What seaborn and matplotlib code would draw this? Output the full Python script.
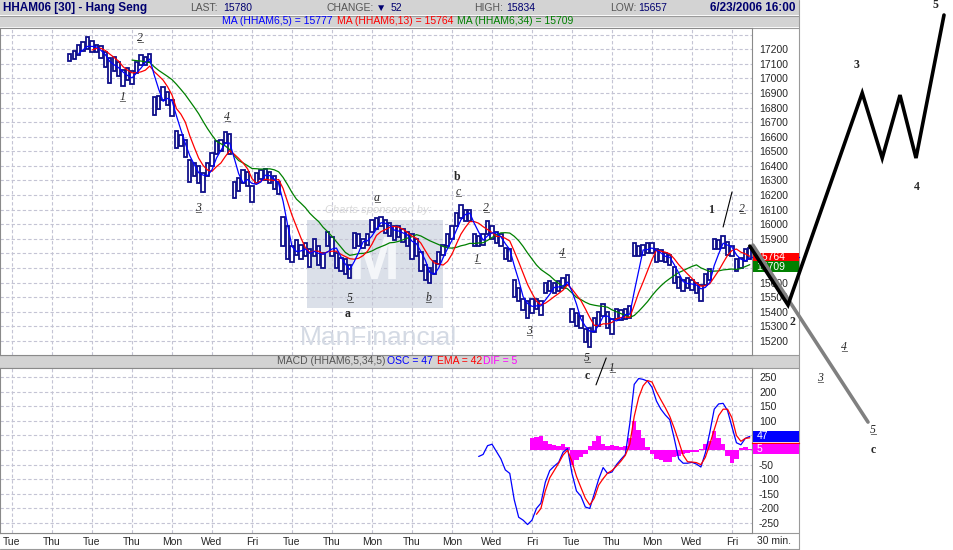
import numpy as np
import pandas as pd
import seaborn as sns
import matplotlib.pyplot as plt
from matplotlib.patches import Rectangle
from matplotlib.transforms import blended_transform_factory

# 30 minute bars (one slot = about 4.4 px)
bar_close = [
    17140, 17170, 17200, 17220, 17240, 17200, 17210, 17170, 17110, 17070,
    17100, 17050, 16980, 17030, 17000, 17080, 17130, 17120, 17150, 16800,
    16830, 16900, 16860, 16780, 16590, 16570, 16500, 16340, 16390, 16330,
    16290, 16380, 16450, 16530, 16540, 16600, 16530, 16230, 16280, 16340,
    16300, 16200, 16320, 16350, 16340, 16310, 16280, 16240, 15950, 15800,
    15790, 15850, 15810, 15830, 15760, 15850, 15790, 15740, 15900, 15850,
    15760, 15720, 15700, 15650, 15880, 15890, 15870, 15900, 15990, 16010,
    16030, 15980, 15960, 15940, 15960, 15920, 15900, 15830, 15870, 15740,
    15650, 15620, 15700, 15780, 15830, 15890, 15950, 16040, 16100, 16060,
    16070, 15890, 15880, 15900, 15980, 15940, 15910, 15890, 15800, 15790,
    15560, 15500, 15450, 15420, 15440, 15460, 15420, 15560, 15580, 15560,
    15570, 15600, 15640, 15380, 15340, 15330, 15230, 15240, 15320, 15360,
    15420, 15330, 15290, 15390, 15370, 15380, 15400, 15830, 15810, 15830,
    15840, 15840, 15780, 15790, 15770, 15760, 15640, 15600, 15580, 15600,
    15590, 15560, 15520, 15620, 15660, 15870, 15860, 15880, 15830, 15820,
    15720, 15740, 15790, 15780,
]
bar_high = [
    17170, 17190, 17230, 17250, 17285, 17260, 17230, 17220, 17180, 17140,
    17150, 17110, 17060, 17070, 17050, 17110, 17160, 17150, 17170, 16870,
    16880, 16940, 16910, 16850, 16640, 16610, 16580, 16440, 16420, 16400,
    16350, 16420, 16490, 16570, 16580, 16630, 16620, 16290, 16320, 16370,
    16360, 16260, 16350, 16370, 16380, 16360, 16330, 16290, 16050, 15990,
    15850, 15890, 15860, 15870, 15830, 15900, 15850, 15800, 15950, 15910,
    15800, 15770, 15760, 15720, 15940, 15930, 15900, 15930, 16030, 16040,
    16050, 16030, 16010, 15990, 15990, 15970, 15950, 15930, 15900, 15810,
    15720, 15700, 15750, 15810, 15860, 15930, 15990, 16080, 16130, 16100,
    16100, 15930, 15920, 15930, 16020, 15990, 15950, 15930, 15840, 15830,
    15620, 15560, 15490, 15470, 15490, 15490, 15470, 15600, 15610, 15600,
    15610, 15630, 15650, 15420, 15390, 15370, 15280, 15290, 15360, 15400,
    15450, 15400, 15350, 15420, 15410, 15420, 15440, 15870, 15850, 15860,
    15870, 15870, 15830, 15820, 15800, 15790, 15710, 15640, 15620, 15630,
    15620, 15600, 15580, 15660, 15690, 15900, 15890, 15920, 15880, 15850,
    15760, 15770, 15830, 15834,
]
bar_low = [
    17120, 17130, 17160, 17190, 17200, 17180, 17180, 17140, 17080, 16970,
    17050, 17020, 16950, 16990, 16960, 17040, 17090, 17090, 17110, 16750,
    16790, 16850, 16820, 16740, 16520, 16540, 16460, 16290, 16330, 16280,
    16220, 16330, 16400, 16480, 16500, 16560, 16480, 16180, 16230, 16280,
    16260, 16150, 16280, 16310, 16300, 16280, 16240, 16210, 15850, 15760,
    15740, 15790, 15760, 15780, 15710, 15780, 15720, 15700, 15850, 15780,
    15700, 15680, 15660, 15630, 15840, 15850, 15840, 15860, 15950, 15970,
    15990, 15940, 15920, 15890, 15910, 15880, 15850, 15760, 15780, 15680,
    15620, 15600, 15660, 15730, 15790, 15850, 15900, 15990, 16040, 16020,
    16020, 15850, 15850, 15860, 15930, 15900, 15870, 15850, 15760, 15750,
    15500, 15470, 15410, 15360, 15390, 15420, 15380, 15530, 15540, 15530,
    15540, 15560, 15580, 15330, 15300, 15290, 15190, 15160, 15260, 15300,
    15370, 15290, 15250, 15350, 15340, 15350, 15360, 15780, 15780, 15790,
    15800, 15800, 15740, 15750, 15740, 15720, 15600, 15560, 15540, 15560,
    15550, 15530, 15470, 15580, 15620, 15830, 15830, 15840, 15790, 15780,
    15680, 15700, 15750, 15760,
]

# MACD panel, these series end on the last bar
osc_values = [
    -22, -15, 15, 20, -5, -30, -68, -80, -170, -230,
    -240, -255, -240, -200, -182, -110, -70, -55, -42, -7,
    5, -80, -140, -158, -195, -200, -150, -100, -60, -80,
    -75, -50, -32, -15, 90, 225, 245, 242, 236, 215,
    168, 140, 120, 104, 40, -30, -45, -45, -42, -48,
    -58, -10, 60, 140, 158, 160, 135, 79, 25, 18,
    40, 47,
]
ema_values = [
    -220, -200, -140, -95, -70, -45, -17, 0, -40, -90,
    -128, -165, -188, -165, -120, -98, -79, -70, -55, -38,
    -18, 20, 115, 180, 220, 238, 233, 200, 172, 145,
    115, 75, 30, -17, -40, -41, -43, -50, -25, 20,
    70, 118, 140, 140, 110, 50, 30, 40, 42,
]
dif_values = [
    40, 45, 48, 30, 20, 18, 15, 20, 10, -50,
    -35, -25, -15, 15, 30, 48, 20, 15, 18, 15,
    12, 15, 40, 100, 70, 40, 10, -15, -30, -35,
    -40, -40, -25, -20, -15, -10, -5, -5, 5, 20,
    30, 65, 40, 20, -20, -45, -30, 8, 10, 5,
]

day_labels = ['Tue', 'Thu', 'Tue', 'Thu', 'Mon', 'Wed', 'Fri', 'Tue', 'Thu', 'Mon',
              'Thu', 'Mon', 'Wed', 'Fri', 'Tue', 'Thu', 'Mon', 'Wed', 'Fri']
price_ticks = list(range(15200, 17301, 100))
macd_ticks = list(range(-250, 251, 50))
# scale labels hidden behind the last-value flags
price_hidden = [15700, 15800, 17300]
macd_hidden = [0, 50]

# hand drawn elliott wave count (bar slot, price)
up_wave_idx = [166, 174.6, 191.3, 195.8, 199.8, 203.4, 209.7]
up_wave_price = [15850, 15446, 16900, 16454, 16886, 16454, 17435]
down_wave_idx = [166.7, 192.6]
down_wave_price = [15857, 14643]
wave_tags = [
    (28.8, 17278, '2', 'u'), (24.8, 16873, '1', 'u'), (48.4, 16736, '4', 'u'),
    (41.9, 16111, '3', 'u'), (82.1, 16180, 'a', 'u'), (76.1, 15494, '5', 'u'),
    (75.6, 15384, 'a', 'b'), (93.6, 15494, 'b', 'u'), (100.1, 16324, 'b', 'b'),
    (100.4, 16221, 'c', 'u'), (106.7, 16111, '2', 'u'), (104.6, 15761, '1', 'u'),
    (123.8, 15803, '4', 'u'), (116.3, 15268, '3', 'u'), (129.4, 15083, '5', 'u'),
    (129.4, 14960, 'c', 'b'), (135.0, 15015, '1', 'u'), (157.3, 16097, '1', 'b'),
    (164.3, 16104, '2', 'u'), (190.1, 17092, '3', 'b'), (203.6, 16255, '4', 'b'),
    (175.6, 15330, '2', 'b'), (207.7, 17504, '5', 'b'), (187.2, 15158, '4', 'u'),
    (181.8, 14946, '3', 'u'), (193.7, 14589, '5', 'u'), (193.7, 14452, 'c', 'b'),
]
wave_strokes = [([160, 162], [15981, 16221]), ([131.4, 133.7], [14898, 15083])]

first_bar = 13
bars_per_label = 9

sns.set_style('white')
plt.rcParams['font.family'] = ['Liberation Sans', 'DejaVu Sans']

W, H = 954, 550
fig = plt.figure(figsize=(W / 100, H / 100), dpi=100)


def px_box(x0, y0, x1, y1):
    return [x0 / W, 1 - y1 / H, (x1 - x0) / W, (y1 - y0) / H]


bg = fig.add_axes([0, 0, 1, 1], zorder=-1)
bg.set_xlim(0, W)
bg.set_ylim(H, 0)
bg.axis('off')
ax = fig.add_axes(px_box(0, 28, 752, 355), zorder=2)
mx = fig.add_axes(px_box(0, 368, 752, 533), zorder=1)

# header strips
bar_grey = '#d3d3d3'
for y0, h in [(0, 15), (16, 11), (355, 13)]:
    bg.add_patch(Rectangle((0, y0), 799, h, color=bar_grey, lw=0))
for yy in [15.5, 27.5, 355, 368, 533, 549]:
    bg.plot([0, 799], [yy, yy], color='#9a9a9a', lw=0.8)
bg.plot([799, 799], [0, 550], color='#9a9a9a', lw=0.8)

navy = '#000070'
grey_txt = '#555555'
fs = 7.5
bg.text(3, 8, 'HHAM06 [30] - Hang Seng', weight='bold', color=navy, fontsize=8.5, va='center')
for x, s, c in [(190, 'LAST:', grey_txt), (223, '15780', navy), (327, 'CHANGE:', grey_txt),
                (376, '\u25bc', navy), (391, '52', navy), (474, 'HIGH:', grey_txt),
                (506, '15834', navy), (610, 'LOW:', grey_txt), (638, '15657', navy)]:
    bg.text(x, 8, s, color=c, fontsize=fs, va='center')
bg.text(796, 8, '6/23/2006 16:00', weight='bold', color=navy, fontsize=8.5, va='center', ha='right')
for x, s, c in [(222, 'MA (HHAM6,5) = 15777', '#0000ff'), (337, 'MA (HHAM6,13) = 15764', '#ff0000'),
                (457, 'MA (HHAM6,34) = 15709', '#008000')]:
    bg.text(x, 21.5, s, color=c, fontsize=fs, va='center')
for x, s, c in [(277, 'MACD (HHAM6,5,34,5)', grey_txt), (387, 'OSC = 47', '#0000ff'),
                (437, 'EMA = 42', '#ff0000'), (483, 'DIF = 5', '#ff00ff')]:
    bg.text(x, 361.5, s, color=c, fontsize=fs, va='center')
bg.text(757, 541, '30 min.', fontsize=fs, va='center')

# price panel
df = pd.DataFrame({'close': bar_close, 'high': bar_high, 'low': bar_low})
df['idx'] = np.arange(first_bar, first_bar + len(df))
df['ma5'] = df['close'].rolling(3).mean()
df['ma13'] = df['close'].rolling(6).mean()
df['ma34'] = df['close'].rolling(15).mean()

x_lo, x_hi = -2.7, 166.5
ax.set_xlim(x_lo, x_hi)
ax.set_ylim(15103, 17346)

# sponsor watermark
ax.add_patch(Rectangle((0.408, 0.144), 0.181, 0.269, transform=ax.transAxes,
                       color='#dbe0e9', lw=0, zorder=0.5))
ax.text(0.498, 0.28, 'M', transform=ax.transAxes, color='#f4f6f9', fontsize=44,
        weight='bold', ha='center', va='center', zorder=0.6)
ax.text(0.503, 0.052, 'ManFinancial', transform=ax.transAxes, color='#d4dae4',
        fontsize=19, ha='center', va='center', zorder=0.6)
ax.text(0.503, 0.443, 'Charts sponsored by:', transform=ax.transAxes, color='#d8d8d8',
        fontsize=8, style='italic', ha='center', va='center', zorder=0.6)

bar_color = '#10108a'
ax.vlines(df['idx'], df['low'], df['high'], color=bar_color, lw=1.0, zorder=3)
ax.bar(df['idx'], df['high'] - df['low'], bottom=df['low'], width=0.75,
       facecolor='white', edgecolor=bar_color, linewidth=1.3, zorder=3)
sns.lineplot(x=df['idx'], y=df['ma34'], ax=ax, color='#008000', lw=0.9, zorder=4)
sns.lineplot(x=df['idx'], y=df['ma13'], ax=ax, color='#ff0000', lw=0.9, zorder=4)
sns.lineplot(x=df['idx'], y=df['ma5'], ax=ax, color='#0000ff', lw=0.9, zorder=4)

tick_idx = np.arange(0, bars_per_label * len(day_labels), bars_per_label)
grid_kw = dict(color='#c4c4d4', linestyle=(0, (3, 2)), linewidth=0.8)
for a in (ax, mx):
    a.set_xticks(tick_idx)
    a.grid(True, **grid_kw)
    a.set_axisbelow(True)
    a.yaxis.tick_right()
    a.tick_params(length=0, labelsize=fs, pad=5)
    a.set_xlabel('')
    a.set_ylabel('')
    for sp in a.spines.values():
        sp.set_color('#8a8a8a')
        sp.set_linewidth(0.8)
ax.set_xticklabels([])
ax.set_yticks(price_ticks)
ax.set_yticklabels(['' if t in price_hidden else str(t) for t in price_ticks])

# last value flags in the scale column
tr = blended_transform_factory(ax.transAxes, ax.transData)
ax.plot([1.0, 1.0625], [15777, 15777], transform=tr, color='#0000ff', lw=1, clip_on=False, zorder=5)
ax.add_patch(Rectangle((1.001, 15751), 0.061, 50, transform=tr, color='#ff0000', lw=0,
                       clip_on=False, zorder=5))
ax.text(1.006, 15776, '15764', transform=tr, color='white', fontsize=fs, va='center',
        clip_on=False, zorder=6)
ax.add_patch(Rectangle((1.001, 15669), 0.061, 80, transform=tr, color='#008000', lw=0,
                       clip_on=False, zorder=5))
ax.text(1.006, 15709, '15709', transform=tr, color='white', fontsize=fs, va='center',
        clip_on=False, zorder=6)

# elliott wave projection and labels
ax.plot(up_wave_idx, up_wave_price, color='black', lw=2.6, clip_on=False, zorder=8,
        solid_joinstyle='miter')
ax.plot(down_wave_idx, down_wave_price, color='#808080', lw=2.6, clip_on=False, zorder=7)
for xs, ys in wave_strokes:
    ax.plot(xs, ys, color='black', lw=0.8, clip_on=False, zorder=7)
for x, y, s, kind in wave_tags:
    if kind == 'b':
        ax.text(x, y, s, fontsize=8.5, weight='bold', family='Liberation Serif',
                ha='center', va='center', clip_on=False, zorder=9)
    else:
        for t in (s, '_'):
            ax.text(x, y, t, fontsize=8.5, style='italic', family='Liberation Serif',
                    ha='center', va='center', clip_on=False, zorder=9)

# MACD panel
macd_idx = df['idx'].to_numpy()
mx.set_xlim(x_lo, x_hi)
mx.set_ylim(-284, 281)
mx.bar(macd_idx[-len(dif_values):], dif_values, width=1.0, color='#ff00ff', lw=0, zorder=2)
sns.lineplot(x=macd_idx[-len(osc_values):], y=osc_values, ax=mx, color='#0000ff', lw=0.9, zorder=3)
sns.lineplot(x=macd_idx[-len(ema_values):], y=ema_values, ax=mx, color='#ff0000', lw=0.9, zorder=3)
mx.set_xticks(tick_idx)
mx.set_xticklabels(day_labels)
mx.tick_params(axis='x', pad=3)
mx.set_yticks(macd_ticks)
mx.set_yticklabels(['' if t in macd_hidden else str(t) for t in macd_ticks])

tr2 = blended_transform_factory(mx.transAxes, mx.transData)
mx.add_patch(Rectangle((1.001, 29), 0.061, 36, transform=tr2, color='#0000ff', lw=0,
                       clip_on=False, zorder=5))
mx.text(1.006, 47, '47', transform=tr2, color='white', fontsize=fs, va='center', clip_on=False, zorder=6)
mx.plot([1.0, 1.0625], [24, 24], transform=tr2, color='#ff0000', lw=1, clip_on=False, zorder=5)
mx.add_patch(Rectangle((1.001, -13), 0.061, 34, transform=tr2, color='#ff00ff', lw=0,
                       clip_on=False, zorder=5))
mx.text(1.006, 5, '5', transform=tr2, color='white', fontsize=fs, va='center', clip_on=False, zorder=6)

fig.savefig('out.png', dpi=100)
